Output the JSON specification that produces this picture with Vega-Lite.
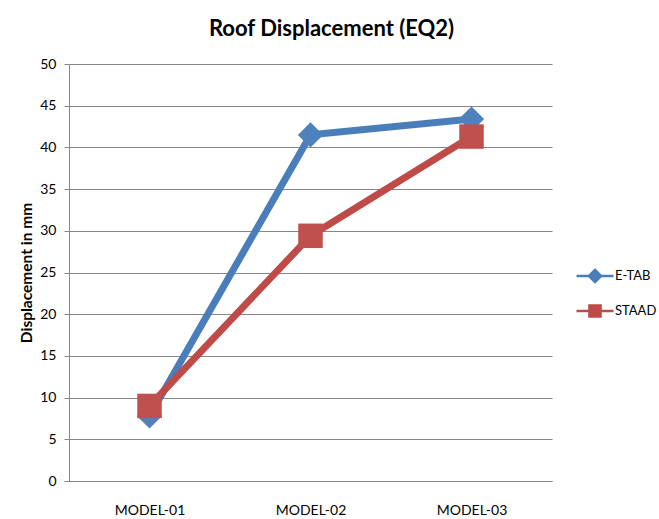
{
  "$schema": "https://vega.github.io/schema/vega-lite/v6.json",
  "width": 483,
  "height": 417,
  "autosize": {"type": "none"},
  "padding": {"left": 69, "top": 64, "right": 107, "bottom": 38},
  "background": "white",
  "config": {"view": {"stroke": null}, "font": "Lato"},
  "title": {"text": "Roof Displacement (EQ2)", "font": "Lato", "fontSize": 22, "fontWeight": "bold", "color": "#000000", "anchor": "middle", "dx": 21, "offset": 16},
  "data": {"values": [
    {"model": "MODEL-01", "series": "E-TAB", "disp": 7.8},
    {"model": "MODEL-02", "series": "E-TAB", "disp": 41.5},
    {"model": "MODEL-03", "series": "E-TAB", "disp": 43.4},
    {"model": "MODEL-01", "series": "STAAD", "disp": 9.0},
    {"model": "MODEL-02", "series": "STAAD", "disp": 29.4},
    {"model": "MODEL-03", "series": "STAAD", "disp": 41.3}
  ]},
  "encoding": {
    "x": {"field": "model", "type": "nominal", "sort": ["MODEL-01", "MODEL-02", "MODEL-03"],
      "scale": {"type": "point", "padding": 0.5},
      "axis": {"title": null, "labelAngle": 0, "ticks": false, "grid": false, "domainColor": "#868686", "labelPadding": 22, "labelFont": "Lato", "labelFontSize": 14, "labelColor": "#000000"}},
    "y": {"field": "disp", "type": "quantitative", "scale": {"domain": [0, 50], "nice": false},
      "axis": {"title": "Displacement in mm", "titleFont": "Lato", "titleFontSize": 15.5, "titleFontWeight": "bold", "titleColor": "#000000", "titlePadding": 5,
        "values": [0, 5, 10, 15, 20, 25, 30, 35, 40, 45, 50], "grid": true, "gridColor": "#868686", "gridWidth": 1,
        "domainColor": "#868686", "tickColor": "#868686", "tickSize": 5, "labelPadding": 8, "labelFont": "Lato", "labelFontSize": 14, "labelColor": "#000000"}}
  },
  "layer": [
    {"mark": {"type": "line", "strokeWidth": 7},
      "encoding": {"color": {"field": "series", "type": "nominal",
        "scale": {"domain": ["E-TAB", "STAAD"], "range": ["#4A7EBB", "#BE4B48"]},
        "legend": {"title": null, "orient": "none", "legendX": 506, "legendY": 192,
          "symbolSize": 1369, "symbolStrokeWidth": 2.5, "symbolOpacity": 1,
          "labelFont": "Lato", "labelFontSize": 13, "labelColor": "#000000", "rowPadding": 3, "labelOffset": 0}}}},
    {"transform": [{"filter": "datum.series == 'E-TAB'"}],
      "mark": {"type": "point", "filled": true, "opacity": 1, "size": 640, "shape": "diamond", "color": "#4F81BD"}},
    {"transform": [{"filter": "datum.series == 'STAAD'"}],
      "mark": {"type": "point", "filled": true, "opacity": 1, "size": 600, "shape": "square", "color": "#C0504D"}},
    {"mark": {"type": "point", "filled": true, "opacity": 0, "size": 10},
      "encoding": {
        "color": {"field": "series", "type": "nominal"},
        "shape": {"field": "series", "type": "nominal", "scale": {"domain": ["E-TAB", "STAAD"], "range": ["M-1,0H1M0,-0.33L0.33,0L0,0.33L-0.33,0Z", "M-1,0H1M-0.3,-0.3H0.3V0.3H-0.3Z"]}, "legend": null}}}
  ]
}
